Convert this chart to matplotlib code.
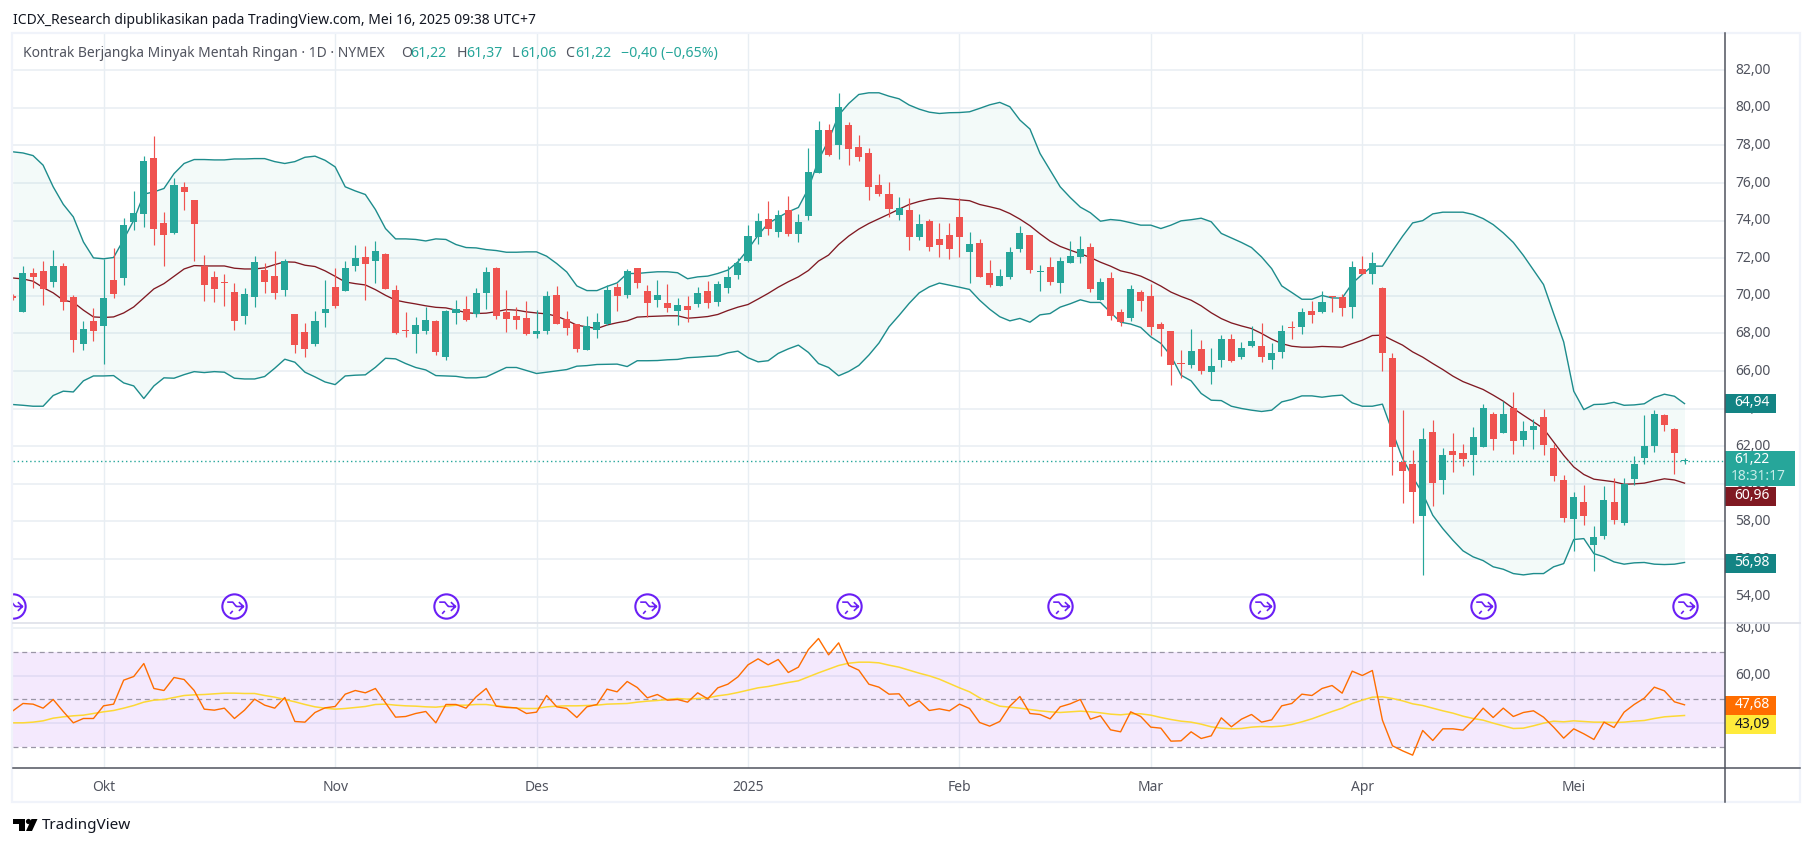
import numpy as np
import matplotlib
matplotlib.use('Agg')
import matplotlib.pyplot as plt
from matplotlib.patches import Rectangle, Polygon, Circle
from matplotlib.path import Path
from matplotlib.transforms import ScaledTranslation

W, H = 1814, 847

# daily bars, first one sits just before the left edge of the chart
first_bar = -9
opens = [70.00, 69.15, 71.20, 71.31, 70.72, 71.58, 69.93, 67.43, 68.65,
         68.38, 70.83, 70.94, 73.92, 74.34, 77.32, 73.86, 73.33, 75.78, 75.08,
         71.58, 70.99, 70.75, 70.19, 68.92, 69.93, 71.36, 71.04, 70.30, 69.02,
         68.07, 67.43, 69.08, 70.46, 70.25, 71.58, 72.05, 71.84, 72.21, 70.30,
         68.21, 67.96, 68.12, 68.65, 66.73, 69.08, 69.29, 69.02, 70.14, 71.47,
         69.13, 68.92, 68.81, 67.96, 68.12, 70.03, 68.76, 68.49, 67.11, 68.17,
         68.50, 70.46, 70.04, 71.47, 70.25, 69.77, 69.61, 69.19, 69.45, 69.56,
         70.25, 69.67, 70.41, 71.10, 71.85, 73.12, 74.08, 73.39, 74.56, 73.28,
         74.24, 76.53, 78.81, 78.02, 79.08, 77.91, 77.59, 75.89, 75.41, 74.29,
         74.56, 73.12, 73.97, 73.02, 73.23, 74.19, 72.33, 72.80, 71.21, 70.52,
         71.00, 72.49, 73.23, 71.26, 71.53, 70.68, 71.74, 72.06, 72.59, 69.77,
         70.94, 69.13, 68.81, 70.20, 69.99, 68.50, 68.12, 66.44, 66.31, 67.17,
         65.94, 66.58, 67.70, 66.74, 67.32, 67.32, 66.58, 67.00, 68.37, 68.33,
         69.18, 69.13, 69.98, 69.93, 69.40, 71.42, 71.15, 70.41, 66.68, 61.15,
         61.05, 58.28, 62.75, 60.20, 61.74, 61.63, 61.53, 61.95, 63.71, 62.70,
         64.02, 62.32, 62.85, 63.55, 61.90, 60.20, 58.12, 59.03, 56.74, 57.22,
         59.03, 57.91, 60.25, 61.37, 62.00, 63.65, 62.91, 61.22]
highs = [70.10, 71.58, 71.47, 71.84, 72.43, 71.74, 70.03, 68.65, 69.34,
         71.98, 72.53, 74.13, 75.56, 77.42, 78.49, 74.45, 76.26, 76.04, 75.08,
         72.16, 71.31, 71.15, 70.67, 70.41, 72.11, 71.74, 72.37, 71.95, 69.02,
         68.54, 69.18, 70.83, 71.47, 71.84, 72.69, 72.64, 72.90, 72.27, 70.56,
         69.13, 68.86, 69.39, 68.70, 69.24, 69.76, 69.98, 70.41, 71.52, 71.52,
         70.30, 69.39, 69.71, 69.24, 70.25, 70.51, 69.18, 68.49, 68.92, 69.08,
         70.56, 70.66, 71.42, 71.47, 70.57, 70.84, 70.62, 69.88, 69.99, 70.46,
         70.78, 70.78, 71.58, 72.04, 73.76, 74.40, 75.04, 74.56, 75.30, 74.35,
         77.86, 79.29, 79.13, 80.78, 79.24, 78.55, 77.86, 76.47, 76.05, 75.25,
         75.20, 74.35, 74.08, 73.87, 73.87, 75.20, 73.39, 73.02, 71.90, 71.42,
         72.59, 73.71, 73.23, 71.63, 72.06, 72.06, 72.91, 73.18, 72.80, 70.94,
         71.26, 69.29, 70.57, 70.30, 70.62, 68.60, 68.12, 67.11, 68.23, 67.64,
         67.22, 67.91, 67.96, 67.54, 68.39, 68.55, 67.48, 68.44, 68.65, 69.34,
         69.72, 70.25, 70.00, 70.09, 71.84, 72.11, 72.32, 70.46, 66.95, 63.92,
         61.79, 62.96, 63.39, 61.90, 62.70, 62.11, 63.01, 64.24, 63.81, 64.40,
         64.88, 63.33, 63.44, 63.97, 62.11, 60.46, 59.56, 59.93, 57.75, 59.88,
         60.30, 60.30, 61.47, 63.65, 63.92, 63.71, 62.96, 61.37]
lows = [69.80, 69.15, 70.41, 69.50, 70.48, 69.24, 67.00, 67.11, 67.59,
        66.36, 69.87, 70.56, 73.49, 73.65, 72.69, 71.58, 73.28, 74.55, 71.84,
        69.71, 69.66, 69.45, 68.17, 68.49, 69.39, 70.14, 69.82, 69.98, 66.95,
        66.73, 67.32, 68.33, 69.34, 70.25, 71.31, 69.76, 70.67, 70.35, 67.95,
        67.80, 66.95, 67.96, 66.84, 66.57, 68.49, 68.65, 68.86, 69.29, 68.76,
        68.07, 68.22, 67.90, 67.75, 67.96, 68.49, 67.90, 67.00, 67.11, 67.75,
        68.44, 69.19, 69.88, 70.41, 68.87, 69.40, 69.13, 68.44, 68.60, 69.40,
        69.35, 69.45, 70.14, 70.89, 71.79, 72.75, 73.23, 73.12, 73.18, 72.86,
        74.03, 76.53, 77.43, 77.27, 76.95, 77.17, 75.09, 75.30, 74.19, 74.03,
        72.43, 72.96, 72.38, 72.06, 71.95, 72.06, 70.68, 71.00, 70.46, 70.52,
        70.89, 72.33, 71.21, 70.25, 70.57, 70.14, 71.74, 71.74, 70.20, 69.77,
        68.71, 68.39, 68.66, 69.19, 67.91, 66.79, 65.25, 65.62, 66.16, 65.84,
        65.30, 66.21, 66.47, 66.63, 67.27, 66.47, 66.10, 66.68, 67.70, 67.96,
        68.55, 69.08, 69.13, 68.92, 68.81, 71.15, 70.62, 65.99, 60.46, 58.97,
        57.91, 55.14, 58.81, 59.45, 60.62, 60.94, 60.46, 61.95, 61.79, 62.70,
        61.58, 62.00, 61.84, 61.53, 60.14, 57.96, 56.42, 57.80, 55.35, 57.06,
        57.85, 57.80, 59.93, 61.05, 61.68, 62.80, 60.51, 61.06]
closes = [69.90, 71.20, 70.99, 70.37, 71.58, 69.66, 67.64, 68.22, 68.12,
          69.87, 70.09, 73.76, 74.39, 77.16, 73.54, 73.22, 75.88, 75.51, 73.80,
          70.56, 70.35, 70.67, 68.65, 70.09, 71.79, 70.72, 70.14, 71.84, 67.37,
          67.16, 68.65, 69.29, 69.45, 71.47, 72.00, 71.68, 72.37, 70.35, 68.01,
          68.13, 68.44, 68.70, 67.00, 69.18, 69.29, 68.70, 70.14, 71.26, 68.92,
          68.76, 68.70, 67.96, 68.12, 69.98, 68.49, 68.28, 67.16, 68.38, 68.60,
          70.30, 69.99, 71.31, 70.68, 69.61, 70.04, 69.35, 69.51, 69.24, 70.14,
          69.61, 70.62, 71.00, 71.74, 73.18, 73.97, 73.55, 74.29, 73.28, 73.92,
          76.58, 78.81, 77.49, 80.04, 77.80, 77.38, 75.78, 75.41, 74.61, 74.67,
          73.12, 73.81, 72.59, 72.70, 72.49, 73.12, 72.75, 71.00, 70.57, 71.05,
          72.33, 73.34, 71.37, 71.34, 70.73, 71.85, 72.11, 72.49, 70.36, 70.73,
          68.92, 68.60, 70.36, 69.72, 68.34, 68.23, 66.31, 66.36, 67.06, 66.00,
          66.26, 67.70, 66.53, 67.22, 67.59, 66.74, 66.95, 68.12, 68.29, 69.13,
          68.97, 69.66, 69.92, 69.34, 71.52, 71.15, 71.74, 66.95, 61.95, 60.67,
          59.56, 62.38, 60.04, 61.53, 61.53, 61.31, 62.48, 64.02, 62.38, 63.71,
          62.27, 62.80, 63.07, 62.06, 60.41, 58.17, 59.29, 58.28, 57.16, 59.13,
          58.07, 59.98, 61.05, 62.00, 63.71, 63.12, 61.62, 61.22]

bb_upper = [77.66, 77.60, 77.46, 76.95, 75.80, 74.87, 74.20, 72.87, 72.02,
            71.97, 72.04, 73.00, 74.02, 75.41, 75.53, 75.71, 76.50, 77.04, 77.25,
            77.25, 77.23, 77.23, 77.28, 77.28, 77.30, 77.30, 77.14, 77.04, 77.14,
            77.37, 77.43, 77.21, 76.86, 75.80, 75.58, 75.39, 74.59, 73.58, 73.03,
            73.03, 73.00, 72.92, 73.03, 73.00, 72.73, 72.57, 72.55, 72.46, 72.41,
            72.32, 72.32, 72.34, 72.34, 72.11, 71.72, 71.27, 70.53, 70.28, 70.28,
            70.50, 70.69, 71.19, 71.19, 71.24, 71.28, 71.28, 71.23, 70.91, 71.01,
            71.05, 71.19, 71.37, 71.81, 72.47, 73.23, 73.85, 74.17, 74.47, 74.70,
            75.71, 77.22, 78.28, 79.61, 80.23, 80.71, 80.80, 80.80, 80.62, 80.48,
            80.15, 79.93, 79.77, 79.70, 79.74, 79.75, 79.79, 79.97, 80.16, 80.29,
            80.06, 79.35, 78.87, 77.57, 76.69, 75.80, 75.23, 74.72, 74.42, 73.97,
            74.06, 74.01, 73.89, 73.76, 73.76, 73.58, 73.76, 73.99, 74.05, 74.13,
            73.94, 73.32, 73.08, 72.84, 72.57, 72.07, 71.45, 70.53, 70.18, 69.82,
            69.82, 70.02, 69.89, 69.88, 70.66, 71.15, 71.58, 71.58, 72.39, 73.17,
            73.88, 74.00, 74.36, 74.45, 74.45, 74.45, 74.33, 74.11, 73.79, 73.35,
            72.84, 72.15, 71.37, 70.60, 69.06, 67.55, 64.93, 63.95, 64.22, 64.24,
            64.34, 64.18, 64.20, 64.26, 64.59, 64.77, 64.66, 64.27]
bb_basis = [70.95, 70.90, 70.78, 70.44, 70.16, 69.77, 69.66, 69.24, 68.88,
            68.85, 68.88, 69.09, 69.41, 69.89, 70.37, 70.65, 71.04, 71.43, 71.61,
            71.59, 71.59, 71.59, 71.47, 71.43, 71.43, 71.49, 71.66, 71.81, 71.79,
            71.63, 71.56, 71.33, 71.04, 70.74, 70.65, 70.58, 70.33, 70.03, 69.77,
            69.66, 69.57, 69.47, 69.39, 69.36, 69.24, 69.11, 69.06, 69.08, 69.16,
            69.27, 69.24, 69.15, 69.09, 69.04, 68.92, 68.70, 68.44, 68.35, 68.26,
            68.45, 68.57, 68.67, 68.87, 68.90, 68.92, 68.94, 68.94, 68.81, 68.85,
            68.90, 69.01, 69.22, 69.40, 69.54, 69.83, 70.13, 70.46, 70.75, 71.01,
            71.35, 71.85, 72.17, 72.73, 73.18, 73.55, 73.85, 74.10, 74.35, 74.61,
            74.86, 75.02, 75.14, 75.20, 75.16, 75.11, 75.06, 74.86, 74.74, 74.61,
            74.38, 74.08, 73.73, 73.30, 72.91, 72.63, 72.43, 72.24, 72.04, 71.79,
            71.58, 71.33, 71.21, 71.05, 70.80, 70.52, 70.20, 69.97, 69.77, 69.47,
            69.10, 68.79, 68.56, 68.40, 68.26, 68.00, 67.70, 67.46, 67.32, 67.27,
            67.27, 67.31, 67.29, 67.27, 67.46, 67.64, 67.89, 67.91, 67.64, 67.38,
            67.02, 66.74, 66.40, 66.08, 65.73, 65.44, 65.23, 65.02, 64.72, 64.40,
            64.01, 63.65, 63.30, 62.94, 62.23, 61.52, 60.90, 60.50, 60.25, 60.18,
            60.11, 59.98, 60.00, 60.04, 60.16, 60.27, 60.21, 60.04]
bb_lower = [64.22, 64.18, 64.13, 64.13, 64.70, 64.93, 64.89, 65.48, 65.74,
            65.74, 65.76, 65.37, 65.21, 64.54, 65.21, 65.64, 65.62, 65.81, 65.97,
            65.92, 65.97, 65.94, 65.62, 65.58, 65.58, 65.71, 66.15, 66.63, 66.47,
            65.94, 65.69, 65.42, 65.28, 65.74, 65.78, 65.80, 66.20, 66.68, 66.65,
            66.40, 66.19, 66.06, 65.76, 65.74, 65.72, 65.64, 65.64, 65.69, 65.94,
            66.19, 66.19, 66.03, 65.87, 65.94, 66.01, 66.08, 66.26, 66.29, 66.35,
            66.36, 66.37, 66.24, 66.55, 66.55, 66.56, 66.60, 66.62, 66.71, 66.74,
            66.78, 66.81, 66.97, 67.06, 66.71, 66.49, 66.55, 66.94, 67.18, 67.38,
            66.99, 66.40, 66.19, 65.75, 65.98, 66.30, 66.85, 67.49, 68.35, 68.96,
            69.60, 70.16, 70.48, 70.68, 70.57, 70.46, 70.34, 69.77, 69.29, 68.89,
            68.67, 68.80, 68.60, 68.99, 69.06, 69.40, 69.58, 69.79, 69.65, 69.65,
            69.12, 68.60, 68.50, 68.32, 67.82, 67.47, 66.81, 65.78, 65.48, 64.81,
            64.45, 64.43, 64.13, 64.01, 63.92, 63.85, 63.92, 64.36, 64.49, 64.68,
            64.68, 64.61, 64.68, 64.72, 64.31, 64.13, 64.13, 64.24, 62.77, 61.35,
            60.37, 59.49, 58.33, 57.62, 57.00, 56.44, 56.12, 55.92, 55.59, 55.46,
            55.23, 55.16, 55.23, 55.23, 55.59, 55.76, 57.04, 57.09, 56.29, 56.12,
            55.85, 55.73, 55.80, 55.82, 55.73, 55.71, 55.73, 55.82]

rsi = [45.23, 48.32, 48.04, 46.35, 50.00, 44.95, 40.18, 42.00, 42.00,
       47.33, 48.04, 58.14, 59.68, 65.15, 54.63, 53.79, 59.26, 58.42, 53.79,
       45.93, 45.51, 46.35, 42.00, 45.51, 50.14, 47.61, 46.35, 50.84, 40.74,
       40.46, 44.53, 46.49, 47.05, 52.24, 53.79, 52.81, 54.63, 48.60, 42.56,
       42.84, 44.11, 44.95, 40.18, 47.90, 47.90, 46.35, 51.12, 54.63, 47.19,
       46.63, 46.49, 44.11, 44.67, 51.68, 46.91, 46.21, 42.42, 46.91, 47.90,
       54.35, 53.23, 57.58, 55.05, 50.70, 52.10, 49.72, 50.00, 48.88, 52.81,
       50.28, 54.91, 56.45, 59.54, 64.59, 67.12, 64.59, 66.84, 61.36, 63.61,
       71.05, 75.68, 68.80, 73.85, 64.31, 62.35, 56.45, 55.19, 52.24, 52.39,
       47.19, 49.44, 45.37, 46.07, 45.23, 48.04, 46.21, 40.32, 38.78, 40.74,
       47.19, 51.26, 44.11, 43.69, 41.86, 46.91, 48.18, 50.00, 41.72, 43.13,
       37.23, 36.39, 44.81, 42.84, 38.36, 37.93, 32.46, 32.60, 36.39, 33.58,
       34.71, 42.28, 38.50, 41.72, 43.69, 40.46, 41.44, 47.33, 48.32, 52.24,
       51.68, 54.63, 55.89, 52.67, 61.93, 60.10, 62.21, 41.30, 30.50, 28.39,
       26.57, 36.95, 32.74, 37.65, 37.65, 37.09, 41.30, 46.35, 42.42, 46.35,
       42.84, 44.53, 45.23, 42.56, 38.36, 33.73, 37.65, 35.55, 33.16, 40.46,
       38.21, 44.67, 47.90, 50.56, 55.19, 53.65, 49.02, 47.76]
rsi_ma = [40.18, 40.18, 40.46, 41.02, 42.14, 42.70, 43.13, 43.41, 44.11,
          44.81, 45.37, 46.35, 47.47, 48.88, 49.72, 50.00, 50.84, 51.68, 51.96,
          52.10, 52.39, 52.67, 52.67, 52.53, 52.53, 51.68, 50.98, 50.00, 49.02,
          47.90, 46.91, 46.35, 45.93, 46.21, 46.63, 47.05, 47.90, 48.04, 47.61,
          47.33, 47.19, 46.91, 46.77, 47.19, 47.61, 47.61, 47.90, 47.90, 47.33,
          46.91, 46.35, 46.21, 46.21, 46.91, 47.19, 47.33, 47.33, 47.47, 47.61,
          48.04, 48.18, 48.32, 48.88, 49.30, 49.58, 50.00, 50.42, 50.14, 50.42,
          50.70, 51.54, 52.10, 52.95, 53.93, 54.91, 55.47, 56.31, 57.16, 57.86,
          59.54, 61.22, 62.77, 64.31, 65.29, 65.71, 65.71, 65.43, 64.45, 63.61,
          62.35, 61.08, 59.96, 58.56, 56.73, 54.91, 53.23, 50.70, 48.88, 47.19,
          46.77, 46.35, 45.79, 45.23, 44.81, 44.53, 44.81, 45.09, 44.81, 44.39,
          43.83, 43.55, 43.97, 43.97, 43.41, 42.42, 41.58, 40.88, 40.46, 39.62,
          38.50, 37.93, 37.65, 37.79, 38.36, 38.64, 38.50, 38.78, 39.48, 40.60,
          41.86, 43.41, 44.95, 46.35, 48.32, 49.72, 50.98, 51.12, 50.42, 49.44,
          48.18, 47.47, 46.35, 45.23, 44.25, 42.98, 42.00, 41.30, 40.04, 38.92,
          37.79, 37.93, 38.92, 40.04, 40.88, 40.60, 41.02, 40.74, 40.46, 40.46,
          40.32, 40.46, 40.88, 41.16, 42.00, 42.70, 42.98, 43.27]

month_bars = [0, 23, 43, 64, 85, 104, 125, 146]
month_labels = ['Okt', 'Nov', 'Des', '2025', 'Feb', 'Mar', 'Apr', 'Mei']
icon_bars = [-9, 13, 34, 54, 74, 95, 115, 137, 157]
price_ticks = list(range(54, 84, 2))
rsi_ticks = [40, 60, 80]
last_price = 61.22

UP = '#26a69a'
DOWN = '#ef5350'
TEAL = '#1d8c8c'
GRID = '#e8eef3'
TXT = '#50535e'
FONT = 'Noto Sans'

plt.rcParams['font.family'] = [FONT, 'DejaVu Sans']

x = np.arange(first_bar, first_bar + len(closes))
o, h, l, c = map(np.array, (opens, highs, lows, closes))
colors = np.where(c >= o, UP, DOWN)

fig = plt.figure(figsize=(W / 100, H / 100), dpi=100)
left, right = 12.5, 1724.5
ax = fig.add_axes([left / W, 1 - 623.3 / H, (right - left) / W, (623.3 - 33) / H])
ax2 = fig.add_axes([left / W, 1 - 768.3 / H, (right - left) / W, 145 / H], sharex=ax)

# harga
ax.set_xlim(-9.04, 160.97)
ax.set_ylim(52.585, 83.98)
for y in price_ticks:
    ax.axhline(y, color=GRID, lw=1.1, zorder=0)
for m in month_bars:
    ax.axvline(m, color=GRID, lw=1.0, zorder=0)
    ax2.axvline(m, color=GRID, lw=1.0, zorder=0)

ax.fill_between(x, bb_lower, bb_upper, color=UP, alpha=0.05, lw=0, zorder=1)
ax.plot(x, bb_upper, color=TEAL, lw=1.0, zorder=2)
ax.plot(x, bb_lower, color=TEAL, lw=1.0, zorder=2)
ax.plot(x, bb_basis, color='#801922', lw=0.95, zorder=2)
ax.axhline(last_price, color=UP, lw=1.0, ls=(0, (1, 2)), zorder=2)

ax.vlines(x, l, h, colors=colors, lw=0.85, zorder=3)
ax.bar(x, np.maximum(np.abs(c - o), 0.07), bottom=np.minimum(o, c), width=0.7, color=colors, lw=0, zorder=4)

# ikon peristiwa
icon_glyph = Path([(-0.5, 0.3), (-0.12, 0.3), (0.12, 0.0), (-0.12, -0.3), (-0.3, -0.5),
                   (0.12, 0.0), (0.62, 0.0), (0.3, 0.3), (0.62, 0.0), (0.3, -0.3)],
                  [Path.MOVETO, Path.LINETO, Path.LINETO, Path.MOVETO, Path.LINETO,
                   Path.MOVETO, Path.LINETO, Path.MOVETO, Path.LINETO, Path.LINETO])
icon_y = [53.49] * len(icon_bars)
ax.plot(icon_bars, icon_y, ls='', marker='o', ms=17.5, mfc='white', mec='#6a1ff5', mew=1.5, zorder=5)
ax.plot(icon_bars, icon_y, ls='', marker=icon_glyph, ms=13, mfc='none', mec='#6a1ff5', mew=1.2, zorder=6)

# RSI
ax2.set_ylim(21.03, 82.08)
for y in rsi_ticks:
    ax2.axhline(y, color=GRID, lw=1.1, zorder=0)
ax2.axhspan(30, 70, color='#9b30f5', alpha=0.1, lw=0, zorder=1)
for y in [30, 50, 70]:
    ax2.axhline(y, color='#9a96a6', lw=0.9, ls=(0, (4, 3)), zorder=2)
ax2.plot(x, rsi_ma, color='#fdd835', lw=1.1, zorder=3)
ax2.plot(x, rsi, color='#ff6d00', lw=1.0, zorder=4)

for a in (ax, ax2):
    for s in a.spines.values():
        s.set_visible(False)
    a.yaxis.tick_right()
    a.tick_params(axis='y', length=0, pad=7.5, labelsize=10, labelcolor=TXT)
ax.set_yticks(price_ticks, [f'{v},00' for v in price_ticks])
ax2.set_yticks(rsi_ticks, [f'{v},00' for v in rsi_ticks])
# label harga duduk sedikit di atas garis grid
for a in (ax, ax2):
    for t in a.yaxis.get_major_ticks():
        t.label2.set_transform(t.label2.get_transform() + ScaledTranslation(0, 0.02, fig.dpi_scale_trans))
ax.tick_params(axis='x', bottom=False, labelbottom=False)
ax2.set_xticks(month_bars, month_labels)
ax2.tick_params(axis='x', length=0, pad=8.5, labelsize=10, labelcolor=TXT)
for lab in ax2.get_xticklabels():
    if lab.get_text() == '2025':
        lab.set_fontweight('bold')

# lapisan piksel: bingkai, label dan logo
ov = fig.add_axes([0, 0, 1, 1], zorder=10)
ov.set_xlim(0, W)
ov.set_ylim(H, 0)
ov.axis('off')
ov.patch.set_alpha(0)

ov.add_patch(Rectangle((1726, 615), 73, 7.5, color='white', lw=0))
ov.add_patch(Rectangle((left - 1, 33), 1801 - left, 769, fill=False, ec='#f0f3fa', lw=1.6))
ov.plot([left, 1800], [623.3, 623.3], color='#e0e3eb', lw=1.3)
ov.plot([left, 1800], [768.3, 768.3], color=TXT, lw=1.1)
ov.plot([1724.7, 1724.7], [33, 802], color=TXT, lw=1.1)

boxes = [(394, 18.7, 51, '#138484', 'white', '64,94'),
         (487, 18.7, 51, '#801922', 'white', '60,96'),
         (554, 18.7, 51, '#138484', 'white', '56,98'),
         (696, 19, 51, '#ff6d00', 'white', '47,68'),
         (715, 19, 51, '#ffeb3b', '#131722', '43,09')]
for y0, bh, bw, col, tc, s in boxes:
    ov.add_patch(Rectangle((1725, y0), bw, bh, color=col, lw=0))
    ov.text(1752, y0 + bh / 2 - 0.5, s, color=tc, fontsize=10, ha='center', va='center')
ov.add_patch(Rectangle((1725, 451), 70, 35, color=UP, lw=0))
ov.text(1752, 459.5, '61,22', color='white', fontsize=10, ha='center', va='center')
ov.text(1758, 476, '18:31:17', color='#c8ece8', fontsize=10, ha='center', va='center')

ov.text(13, 20, 'ICDX_Research dipublikasikan pada TradingView.com, Mei 16, 2025 09:38 UTC+7',
        color='#131722', fontsize=10, ha='left', va='center')
ov.text(23, 53.5, 'Kontrak Berjangka Minyak Mentah Ringan · 1D · NYMEX', color=TXT, fontsize=10, ha='left', va='center')
for px, s, col in [(400.8, 'O', TXT), (410.5, '61,22', UP), (456.4, 'H', TXT), (466, '61,37', UP),
                   (512, 'L', TXT), (520, '61,06', UP), (565, 'C', TXT), (575, '61,22', UP),
                   (621, '−0,40 (−0,65%)', UP)]:
    ov.text(px, 53.5, s, color=col, fontsize=10.2, ha='left', va='center')

# logo TradingView
ov.add_patch(Polygon([(13, 819), (25, 819), (25, 831), (19, 831), (19, 824), (13, 824)], color='black', lw=0))
ov.add_patch(Circle((28.5, 821.5), 2.6, color='black', lw=0))
ov.add_patch(Polygon([(31.5, 819), (37.5, 819), (32, 831), (26, 831)], color='black', lw=0))
ov.text(42, 825.5, 'TradingView', color='#131722', fontsize=11, ha='left', va='center')

fig.savefig('out.png', dpi=100)
